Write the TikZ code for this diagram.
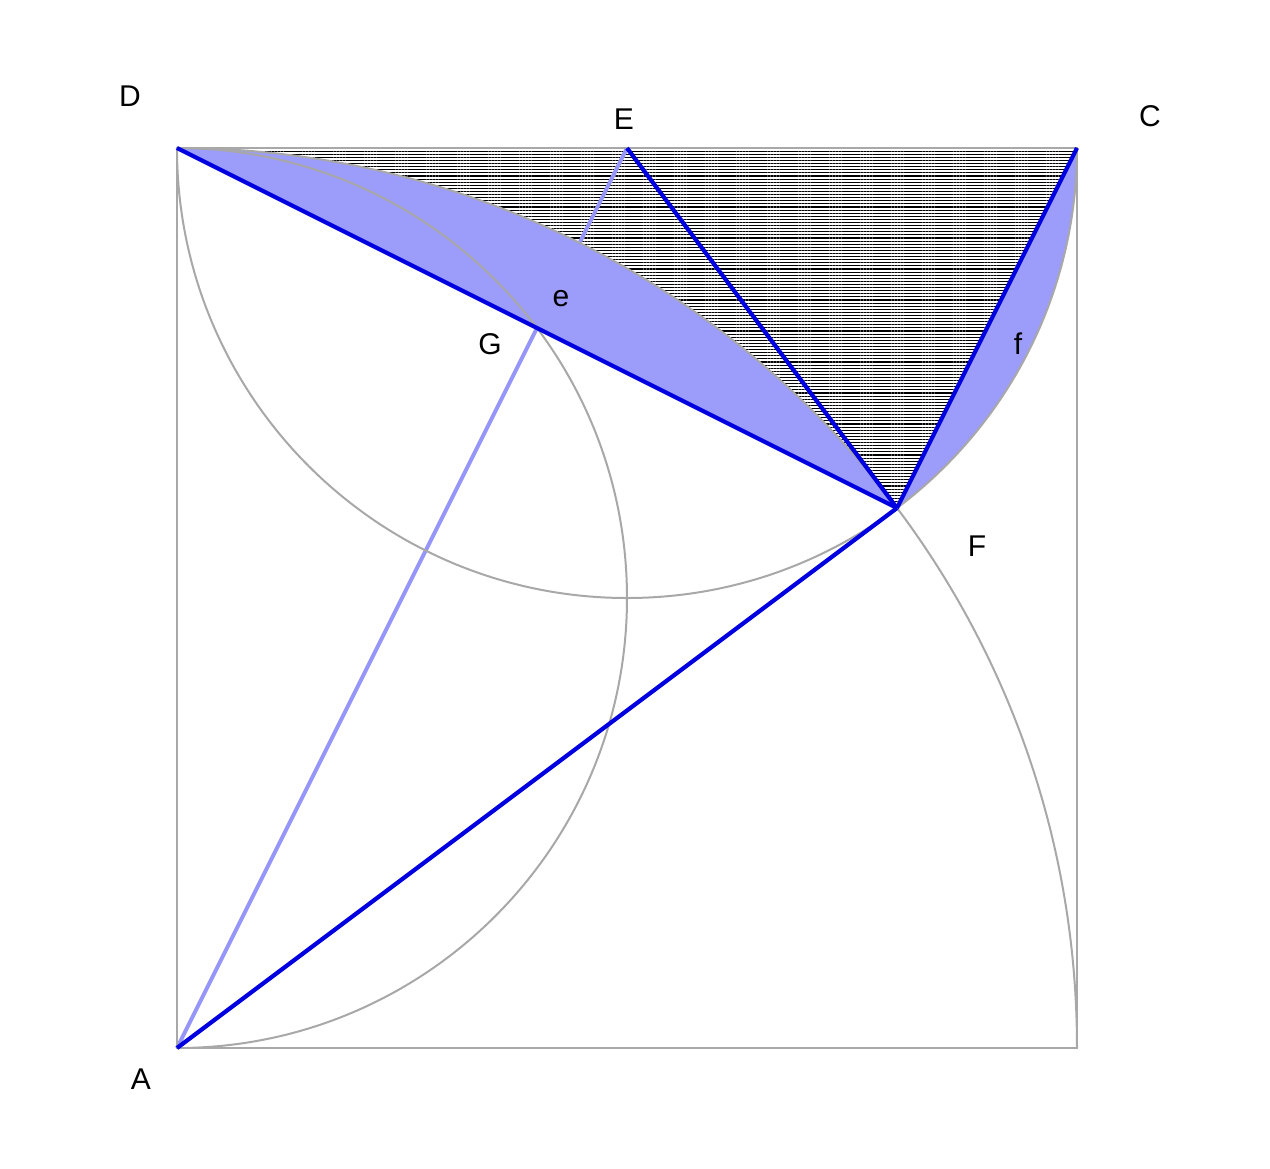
\documentclass[tikz,border=0pt]{standalone}
\usepackage{fontspec}
\setmainfont{Liberation Sans}
\usetikzlibrary{patterns.meta}
\definecolor{darkb}{RGB}{0,0,225}
\definecolor{lightb}{RGB}{150,150,250}
\definecolor{fillb}{RGB}{156,156,250}
\definecolor{grayl}{RGB}{168,168,168}
\tikzset{
  thinline/.style={draw=grayl, line width=1pt},
  mainline/.style={draw=darkb, line width=2.1pt},
  auxline/.style={draw=lightb, line width=2pt},
  lensfill/.style={fill=fillb},
  hatchfill/.style={pattern={Lines[angle=0, distance=1.55pt, line width=0.55pt]}, pattern color=black},
  lbl/.style={font=\fontsize{15}{15}\selectfont, inner sep=0pt}
}
\begin{document}
\begin{tikzpicture}[x=225pt, y=225pt]
\useasboundingbox (-0.3933,-0.2667) rectangle (2.4289,2.3289);
\coordinate (A) at (0,0);
\coordinate (B) at (2,0);
\coordinate (C) at (2,2);
\coordinate (D) at (0,2);
\coordinate (E) at (1,2);
\coordinate (F) at (1.6,1.2);
\coordinate (G) at (0.8,1.6);
% hatched region
\path[hatchfill] (D) -- (C) -- (F) arc[start angle=36.8699, end angle=90, radius=2] -- cycle;
% light auxiliary line A-G-E
\path[auxline] (A) -- (E);
% blue lens regions
\path[lensfill] (D) -- (F) arc[start angle=36.8699, end angle=90, radius=2] -- cycle;
\path[lensfill] (F) -- (C) arc[start angle=0, end angle=-53.1301, radius=1] -- cycle;
% square and arcs
\draw[thinline] (A) -- (B) -- (C) -- (D) -- cycle;
\draw[thinline] (D) arc[start angle=180, end angle=360, radius=1];
\draw[thinline] (D) arc[start angle=90, end angle=-90, radius=1];
\draw[thinline] (D) arc[start angle=90, end angle=0, radius=2];
% main blue lines
\draw[mainline] (D) -- (F);
\draw[mainline] (A) -- (F);
\draw[mainline] (E) -- (F);
\draw[mainline] (F) -- (C);
% labels
\node[lbl] (lD) at (-0.1044,2.1156) {D};
\node[lbl] (lE) at (0.9933,2.0644) {E};
\node[lbl] (lC) at (2.1622,2.0711) {C};
\node[lbl] (lG) at (0.6956,1.5644) {G};
\node[lbl] (le) at (0.8533,1.6644) {e};
\node[lbl] (lf) at (1.8689,1.5644) {f};
\node[lbl] (lF) at (1.7778,1.1156) {F};
\node[lbl] (lA) at (-0.0800,-0.0689) {A};
\end{tikzpicture}
\end{document}
